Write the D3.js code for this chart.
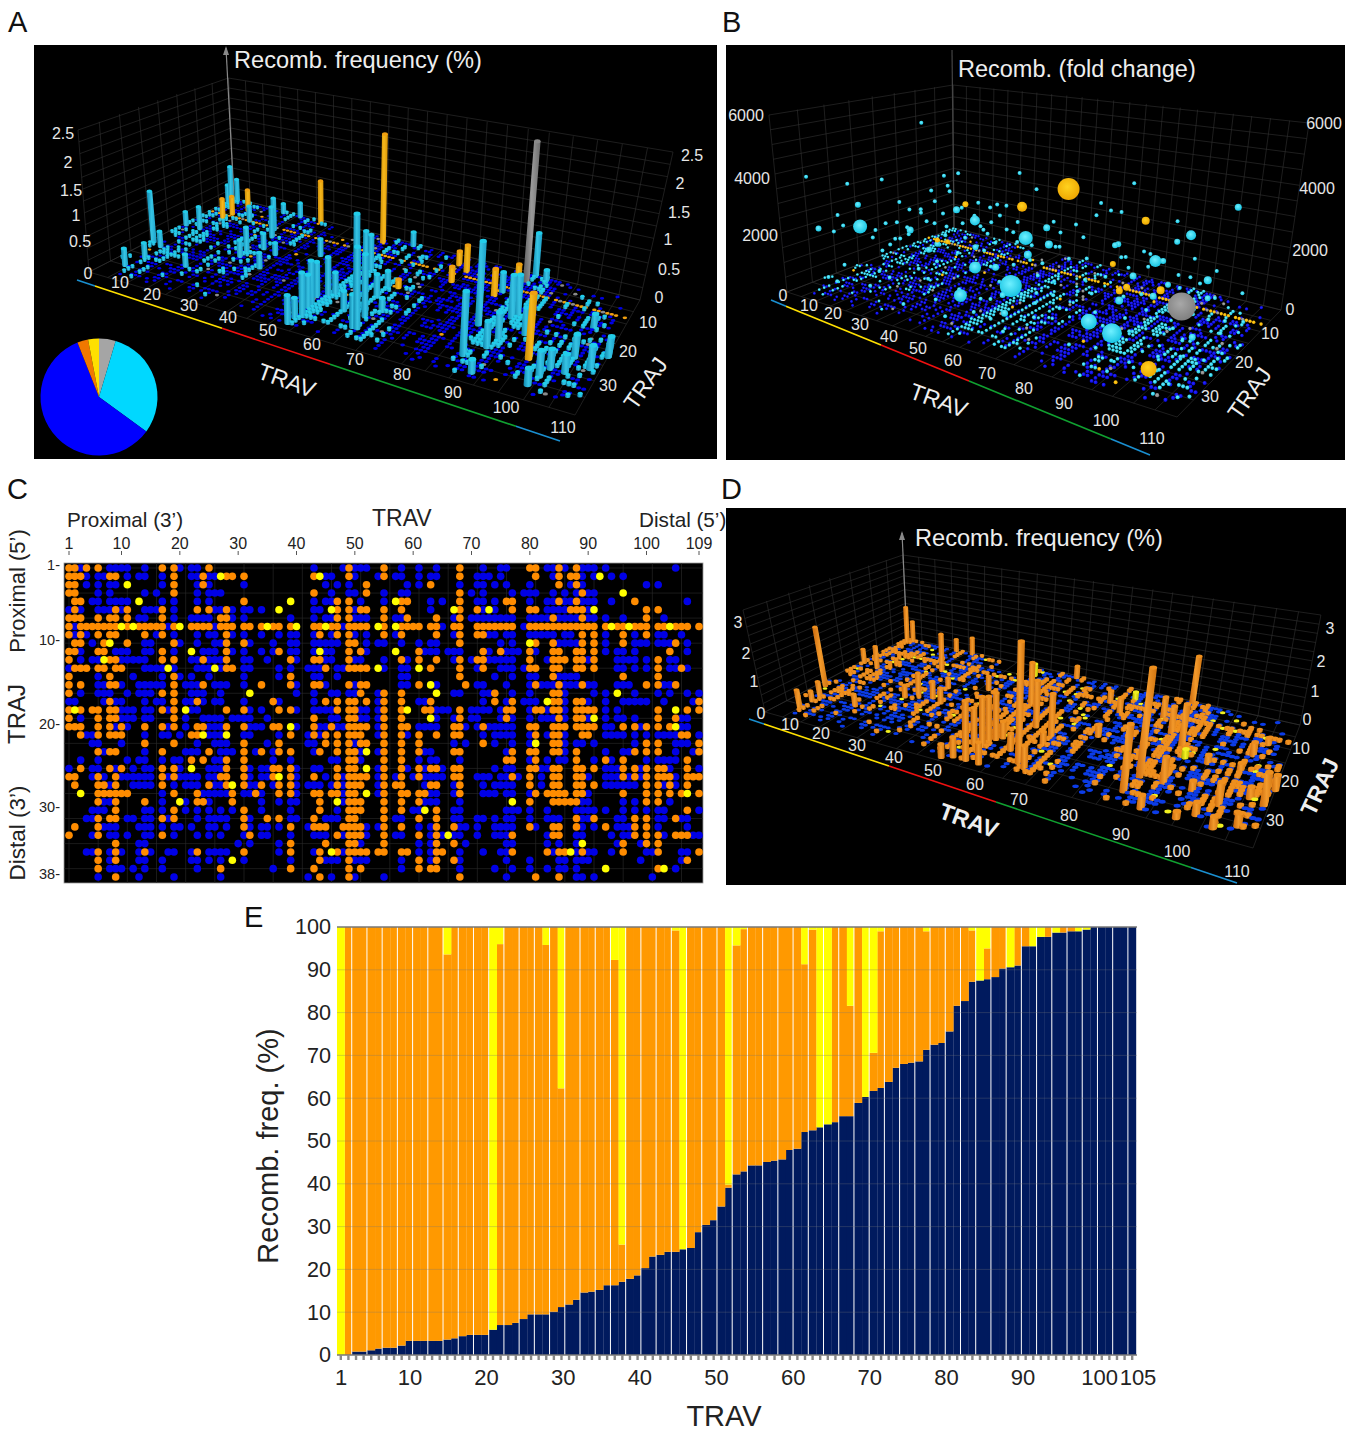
<!DOCTYPE html>
<html lang="en">
<head>
<meta charset="UTF-8">
<title>TRAV TRAJ recombination</title>
<script src="https://d3js.org/d3.v7.min.js"></script>
<style>
  html, body { margin: 0; background: #fff; }
  text { font-family: "Liberation Sans", Arial, sans-serif; }
</style>
</head>
<body>
<svg width="1355" height="1431"></svg>
<script>
// panel C: TRAV columns per TRAJ row (row 1 first)
const orangeByRow = [
[1,2,4,6,17,19,25,49,55,68,80,81,85,88],
[1,2,3,8,9,19,24,28,29,31,43,49,55,68,81,85,87,88],
[1,2,19,24,52,63,85,88],
[1,2,19,43,52,68,89],
[2,3,31,47,49,58,59,68,76,77,85,88,98],
[2,9,11,17,23,25,28,47,49,51,52,55,58,68,71,77,80,81,87,88,89,100,102],
[1,2,3,6,8,9,11,17,27,28,47,49,55,59,64,68,84,89,100],
[1,3,4,5,6,7,8,9,11,13,14,15,16,17,19,22,23,24,25,27,28,29,31,32,34,36,37,39,43,44,46,47,49,50,51,52,55,58,59,60,61,63,64,67,68,71,72,73,74,75,76,77,80,81,82,83,84,85,86,87,88,89,90,91,93,95,96,98,99,100,102,103,105,106,107,109],
[1,3,6,8,9,14,17,28,44,47,49,55,58,64,68,71,72,89,91,96,100],
[2,3,7,11,19,28,31,49,50,68,81,84,89,91,96,105],
[1,2,6,7,17,28,37,49,51,61,72,75,80,84,85,88,89,91,104],
[1,8,9,17,19,24,28,39,43,44,49,58,61,64,68,71,72,80,84,85,86,88,89,91,102],
[2,3,4,6,7,9,10,28,29,45,49,50,51,52,63,68,72,80,81,84,85,88,89,91,102,106],
[1,8,19,39,68,84,96,102],
[1,3,8,9,19,24,34,39,43,44,49,51,52,61,69,81,85,89,100,102,105],
[1,17,19,51,55,58,74,84,85],
[8,19,23,36,45,47,49,50,52,55,58,63,74,77,84,85,88,89,109],
[1,3,5,6,8,9,17,19,28,31,37,39,47,49,50,55,58,62,63,68,76,77,81,82,84,85,88,89,90,91,102,107,109],
[1,6,8,9,19,43,49,50,55,58,68,76,85,88,89,102,105],
[1,2,3,6,8,10,14,17,19,23,24,28,31,36,37,43,46,49,50,51,52,55,58,59,67,68,72,80,81,84,85,86,88,89,90,91,96,98,100,102,104],
[3,6,8,9,10,22,23,39,43,45,47,49,50,51,55,58,61,64,67,68,81,84,85,89,90,106,107],
[14,19,31,37,45,47,49,51,52,55,58,61,72,84,85,100,102,109],
[6,8,9,17,25,31,34,37,39,44,47,49,50,55,58,61,67,68,77,80,81,84,85,88,98,100,102,109],
[22,24,28,31,49,50,55,58,76,77,81,88,93,96,107],
[3,8,10,17,19,28,31,36,37,39,47,49,50,55,58,61,63,64,67,68,80,81,84,85,88,89,91,96,98,100,102,103,107],
[1,2,6,9,17,19,27,28,31,36,39,43,47,49,50,51,52,55,58,61,67,68,77,80,84,85,88,89,96,98,100,102,103,104,107,108,109],
[2,6,7,9,17,25,28,31,34,37,39,47,49,50,51,55,57,58,63,64,68,80,84,85,88,89,91,100,102,104,107],
[6,7,8,9,10,11,19,23,29,33,37,39,43,44,46,47,49,50,55,58,59,61,62,68,81,83,84,85,86,88,89,96,100,102,104,106,109],
[6,9,14,23,24,29,44,49,50,51,55,58,61,80,84,85,86,87,88,100,102],
[9,19,31,44,49,50,51,55,58,64,107],
[6,8,9,17,19,31,35,37,43,49,50,55,61,64,88,91,98,100,105],
[2,6,31,39,43,44,45,48,49,50,51,55,58,64,67,80,84,85,88,93,98,100],
[1,6,17,32,47,49,50,51,55,61,64,77,84,85,98,100,102,105,106,107],
[9,39,45,49,50,55,64,67,96,100,102],
[6,9,14,23,31,39,44,47,49,50,51,52,54,55,58,59,64,65,77,83,85,86,89,96,102,109],
[6,9,44,49,61,64,67,107],
[6,27,39,43,49,51,61,63,64,102],
[9,44,49,68,81,85]
];
const blueByRow = [
[3,8,9,10,11,14,20,22,23,43,48,50,51,52,58,61,64,72,75,76,83,84,86,89,90,91,93,105],
[4,6,7,11,13,14,17,22,23,25,26,45,46,50,54,57,58,61,63,64,71,72,73,75,84,89,91,94,96],
[4,6,8,9,17,23,25,31,45,47,49,59,61,68,71,72,74,76,80,87,89,100,102],
[6,8,14,16,23,25,26,27,46,49,50,55,58,59,70,72,77,79,80,81,84,86,88,90,91],
[5,6,8,9,10,11,17,19,23,25,43,45,46,51,55,63,65,71,72,74,80,83,84,86,87,89,90,91,94,107],
[1,3,6,7,8,10,14,15,16,19,26,27,29,31,32,34,43,44,50,63,72,74,83,84,85,86,90],
[13,14,19,22,23,24,25,29,31,39,43,45,46,50,51,52,57,58,67,70,71,72,73,74,75,76,77,80,81,82,83,85,86,87,88,90,91,93,96,103],
[2,18,26,48,65,79],
[2,4,16,19,23,25,26,29,31,34,37,39,40,43,46,50,52,57,67,73,74,76,77,80,81,82,83,84,86,87,93,98,102,103,106],
[5,14,15,20,23,26,27,32,36,39,40,43,44,45,46,47,52,54,55,58,61,63,64,75,77,85,86,87,88,93,98,99,100,102,103,104,107],
[3,9,10,11,14,15,19,24,25,26,29,31,34,36,39,40,43,45,46,52,62,63,64,66,67,68,73,76,77,78,81,93,95,96,98,107],
[3,5,6,10,11,12,13,14,22,23,25,26,27,31,32,35,40,45,46,50,51,55,59,67,70,73,74,75,76,77,83,90,95,96,97,98,100,104,105],
[1,14,15,16,17,19,23,24,25,27,31,32,37,39,42,43,44,47,48,55,58,59,71,75,76,77,79,95,96,98,100,104,105,107],
[6,12,17,20,22,25,31,37,43,44,47,58,59,74,77,80,81,85,86,87,88],
[6,7,10,13,14,15,16,17,21,22,23,26,27,28,31,40,45,50,58,59,64,71,72,76,80,82,83,84,86,87,88,90,91,95,96,97,103,104],
[3,6,7,8,11,13,14,15,22,23,24,27,40,43,46,47,49,50,54,67,68,72,73,77,80,86,91,93,98,102,104,107,109],
[1,2,7,9,10,14,16,17,21,22,24,26,27,31,37,43,54,61,62,72,76,79,80,81,86,90,93,96,97,98,99,100,103,108],
[10,11,12,14,15,18,22,23,32,34,40,43,44,45,46,51,52,54,64,65,66,70,71,72,73,75,80,83,86,93,95],
[3,10,11,12,14,15,21,24,25,26,27,29,30,31,32,35,46,47,51,52,54,64,67,70,71,75,77,80,82,83,84,86,90,93,95,96,98,106,107],
[9,11,18,21,25,26,27,32,33,34,40,44,45,47,48,54,61,62,63,64,69,71,73,74,75,76,77,93,94,99,106,107],
[4,5,14,17,18,20,25,26,27,31,32,37,42,44,54,59,72,74,75,76,77,80,83,86,93,94,95,96,98,100,102,103,104,105,109],
[5,6,10,23,26,27,28,35,42,43,50,67,69,74,77,80,86,88,89,91,98,105,106,107],
[7,14,21,22,23,27,28,29,33,36,43,51,54,62,63,76,86,93,96,97,105,108],
[3,6,11,13,14,17,19,20,26,27,36,39,46,47,51,61,63,64,68,80,83,85,86,91,94,100,102,103,104,105],
[1,5,6,9,12,14,15,20,25,26,27,32,34,35,40,43,44,54,59,62,65,74,76,77,82,83,93,94,95,99,104,109],
[5,7,10,11,12,13,14,15,18,20,21,22,23,25,26,32,34,35,40,45,48,54,57,60,62,63,64,65,71,72,73,75,76,78,82,90,93,94,95,97,99,105],
[8,12,13,14,15,19,21,22,23,26,27,32,33,36,40,42,43,44,46,48,54,62,67,72,74,75,76,77,82,93,94,95,96,97,98,103,105],
[17,24,25,26,27,28,31,32,34,40,48,54,63,64,67,72,73,74,76,77,80,90],
[7,8,17,21,25,34,37,39,40,48,62,63,64,68,89,90,96,98,104],
[5,6,7,14,15,17,21,23,25,27,29,34,39,47,60,61,67,68,76,77,78,80,83,88,89,90,91,93,96,98,100,102,103,109],
[4,5,11,12,14,15,18,23,25,26,27,28,32,39,40,45,46,47,57,58,67,68,71,72,74,76,77,80,83,84,85,89,90,95,96,102,103,106,107],
[7,8,9,13,14,15,17,19,20,22,25,26,28,32,34,35,37,42,52,54,61,63,68,69,71,74,75,76,77,81,89,91,95,96,97,102,107],
[5,8,9,11,14,15,19,23,25,27,31,34,35,39,43,44,45,48,52,57,58,63,65,67,68,71,74,75,76,83,88,89,94,96,97,103,108,109],
[13,14,30,32,37,51,61,63,69,76,77,83,85,88,95,99],
[4,5,8,10,13,15,18,19,22,25,26,27,28,37,43,48,61,63,68,72,75,76,84,88,90,91,94,100,101,106,107],
[8,13,14,17,22,23,25,27,31,39,45,46,47,50,51,52,58,63,68,76,80,85,86,88,89,90,99,106],
[8,9,10,12,14,17,23,36,58,68,74,77,80,83,85,86,88,105],
[6,13,19,27,42,46,50,55,76,88,89,91,101]
];
// [TRAV, TRAJ]
const yellowDots = [[27,2],[44,2],[92,2],[11,3],[96,4],[13,5],[39,5],[57,5],[37,6],[46,6],[67,6],[73,6],[91,6],[10,8],[12,8],[20,8],[35,8],[40,8],[45,8],[54,8],[57,8],[94,8],[97,8],[104,8],[8,10],[80,10],[22,11],[44,11],[57,11],[7,12],[18,13],[26,13],[54,13],[61,13],[63,15],[32,16],[64,16],[95,16],[83,17],[2,18],[21,18],[59,18],[105,18],[63,19],[91,19],[39,20],[105,20],[24,21],[28,21],[81,22],[52,23],[22,25],[52,25],[37,26],[29,27],[3,28],[52,28],[107,28],[20,29],[47,29],[77,29],[62,30],[66,33],[89,34],[46,35],[87,35],[29,36],[93,37],[103,37]];
// same cells shown amber instead of grey in A and B
const amberCells = ["27,2","13,5","37,6","57,8","80,10","18,13","32,16","59,18","24,21","52,25","3,28","77,29","87,35","93,37"];
// TRAV stretches where the orange cells of C stay dark blue in A and B
const blueStretches = [[31,47],[68,82]];

// panel A tall bars [TRAV, TRAJ, frequency %]
const barsCyanA = [[1,25,.94],[4,26,.28],[4,35,.3],[5,31,.27],[1,16,.26],[5,16,.42],[15,30,.21],[2,3,.77],[1,3,.38],[2,1,.45],[12,8,.29],[20,9,.61],[22,12,.57],[16,1,.18],[21,1,.28],[22,20,.46],[24,17,.28],[22,22,.3],[29,24,.27],[28,18,.21],[53,1,.25],[58,30,1.68],[49,14,.65],[61,34,1.34],[51,15,.65],[48,31,.75],[49,35,.73],[47,28,.59],[49,27,.67],[48,38,.46],[48,36,.33],[48,32,.55],[50,26,.39],[55,30,.33],[60,30,1.04],[58,23,.39],[58,19,.29],[60,34,.54],[62,27,.22],[37,14,.3],[84,33,1.02],[82,23,1.38],[88,26,.45],[87,29,.42],[88,37,.21],[87,18,.71],[88,17,.69],[85,1,.76],[81,10,.34],[92,22,.43],[88,2,.2],[104,14,.22],[104,25,.37],[108,27,.37],[110,22,.21],[100,33,.41],[99,36,.26],[104,30,.29],[101,30,.31],[110,22,.32]];
const barsAmberA = [[46,3,2.04],[27,1,.81],[6,10,.4],[6,7,.35],[8,4,.42],[67,4,.24],[70,6,.47],[69,11,.26],[80,12,.45],[82,4,.27],[96,29,1.05],[60,18,.14]];
const barsGreyA = [[84,4,2.45]];

// panel D bars
const barsOrangeD = [[2,27,2.01],[5,36,.58],[5,31,.5],[5,33,.33],[1,15,.49],[6,16,.78],[15,31,.38],[2,2,1.37],[3,1,.78],[21,11,1.3],[17,1,.44],[22,1,.62],[24,22,.72],[28,22,.55],[28,17,.34],[31,23,.49],[22,24,.39],[37,14,.45],[53,1,.4],[60,35,3.53],[50,16,1.37],[56,23,1.43],[61,25,1.3],[50,38,1.74],[50,33,1.48],[48,33,1.09],[51,30,1.4],[50,31,1.34],[47,38,.58],[45,39,.39],[53,38,.62],[61,28,.39],[62,36,.66],[52,29,.5],[56,32,.49],[83,35,1.86],[84,30,3.07],[80,9,.62],[84,1,1.5],[84,14,.8],[88,18,1.26],[89,30,.73],[88,38,.36],[66,8,.37],[70,11,.47],[70,21,.35],[95,30,.27],[95,38,.18],[102,38,.31],[95,21,.24],[102,21,.23],[101,32,.62],[109,29,.89],[106,28,.31],[110,24,.41],[106,36,.35],[98,36,.35],[103,15,.38],[105,10,.19]];
const barsYellowD = [[43,4,.4],[71,5,.27],[90,21,.24]];

// panel B spheres [TRAV, TRAJ, fold change]
const ballsAmber = [[51,9,3120],[44,16,2700],[78,13,2870],[28,18,2510],[99,35,500],[73,17,1560],[83,26,1610],[84,25,1680],[92,24,1750],[28,25,1640],[30,24,1570]];
const ballsAmberR = [11,5,4,3,8,3,3.5,3.5,4,2.5,2.5];
const ballsGrey = [[99,26,1620]];
const ballsGreyR = [14];
const ballsCyan = [[3,26,1520],[51,21,2080],[56,29,1150],[87,32,890],[80,31,930],[44,28,1340],[46,33,820],[87,20,2240],[90,12,2630],[35,21,2270],[54,18,2330],[58,21,2050],[54,23,1720],[25,18,2250],[83,22,1790],[84,27,1410],[97,14,1510],[95,1,3030],[49,27,1420],[19,25,1750],[1,25,2210],[2,34,1860],[91,25,1610],[89,20,2300],[59,33,660],[56,31,1000],[90,17,2740],[100,18,1310],[28,27,1420],[28,25,1510],[39,24,1630],[103,27,900],[75,19,2350],[75,18,2320],[93,23,1880]];
const ballsCyanR = [7,7,11,10,8,6,6.5,6,5,5,3.5,4,4,3.5,3.5,4,4,3.5,3.5,3.5,3,3,3.5,3,3.5,3,3,3,3,3,3,3.5,3,3,3];
const ballsSmall = [[2,10,4730],[1,35,3690],[1,27,3060],[2,20,2930],[19,13,3210],[14,13,3020],[35,9,3370],[18,15,2820],[20,16,2700],[15,17,2670],[19,19,2460],[8,20,2230],[2,30,2120],[2,29,1690],[2,31,1590],[9,27,1340],[9,24,1680],[13,24,1820],[13,21,2120],[17,21,2100],[31,17,2590],[39,16,2620],[36,16,2590],[44,12,3110],[69,7,3600],[64,12,3080],[91,39,5290],[71,13,2990],[61,10,2480],[86,12,2990],[55,17,2500],[45,18,2300],[39,20,2250],[39,22,2110],[31,21,2070],[27,22,1910],[23,22,1930],[46,20,2090],[65,18,2290],[83,19,2370],[79,20,2150],[93,14,2080],[103,8,860],[17,26,1460],[15,27,1250],[43,25,1690],[44,23,1850],[60,21,2030],[67,24,2020],[71,23,2070],[86,21,2100],[94,21,2070],[97,17,1610],[96,23,1870]];
const ballsLow = [[49,22,620],[49,26,880],[50,29,540],[51,24,760],[50,33,410],[55,21,930],[55,27,720],[55,33,350],[58,24,640],[58,28,880],[58,32,520],[61,22,980],[61,27,610],[61,35,300],[64,25,810],[64,30,470],[67,21,760],[67,26,560],[68,20,1100],[1,10,1300],[3,15,900],[2,22,1150],[6,12,1050],[8,9,1250],[6,20,820],[9,25,760],[8,18,930],[11,6,1400],[17,7,1280],[17,15,960],[19,4,1500],[19,18,840],[23,10,1180],[25,6,1420],[24,15,1050],[28,12,1130],[28,20,900],[31,9,1200],[37,11,1000],[39,20,720],[43,12,1100],[44,18,800],[47,7,1380],[47,16,920],[49,4,1550],[52,12,1280],[52,17,1010],[84,20,1100],[85,26,820],[85,31,560],[88,18,1180],[88,23,940],[88,28,660],[84,33,420],[80,21,980],[81,28,600],[89,34,300],[96,24,700],[98,31,480],[100,26,620],[102,20,860],[102,29,450],[100,33,330],[105,18,760],[107,28,430],[109,26,380],[104,35,240],[98,20,900],[91,12,1300],[96,9,1450],[100,15,1100],[106,21,640],[109,17,780],[71,12,1420],[72,18,1180],[77,9,1500],[75,14,1300],[76,25,640],[77,33,280],[72,22,900],[5,31,500],[6,35,360],[9,35,300],[14,29,420],[17,33,260],[19,30,400],[23,26,560],[25,23,700],[29,28,520],[31,35,210],[37,32,340],[39,28,460],[44,35,230],[47,29,460]];

// panel E, one value per ranked TRAV
const navyVals = [0,0,.8,.8,1.1,1.5,1.7,1.7,2.2,3.3,3.3,3.3,3.3,3.3,3.6,3.9,4.4,4.7,4.7,4.7,5.9,7,7,7.5,8.4,9.5,9.5,9.5,10.1,11.2,11.8,12.9,14.6,14.8,15.2,16.3,16.3,17.1,17.8,18.6,20.3,23,23.4,24.1,24.1,24.7,25,28.7,30.4,31.5,34.7,39.1,42.2,42.9,44.3,44.3,45.1,45.4,45.7,47.9,48.2,52.1,52.5,53.2,53.9,54.4,55.8,55.8,58.9,60.3,61.7,62.4,63.8,67.1,68,68.3,68.6,71.3,72.5,72.9,75.6,81.6,82.7,87.2,87.5,87.8,88.3,90.3,90.6,91,95.5,95.5,97.7,97.7,98.7,98.7,99,99,99.4,100,100,100,100,100,100];
const yellowVals = [100,0,0,0,0,0,0,0,0,0,0,0,0,0,6.4,0,0,0,0,0,94.1,4,0,0,0,0,0,4.2,0,37.7,0,0,0,0,0,0,7.7,74.2,0,0,0,0,0,0,.8,75.3,0,0,0,0,0,60.2,4.3,.5,0,0,0,0,0,0,0,8.7,.6,46.8,46.1,0,0,18.4,0,39.7,29.4,1,0,0,0,0,0,1,0,0,0,0,0,.8,12.5,5,0,0,9.4,0,0,4.5,2.3,0,1.3,0,0,1,.6,0,0,0,0,0,0];
const orangeVals = navyVals.map((n, i) => 100 - n - yellowVals[i]);
const barTicks = [1,10,20,30,40,50,60,70,80,90,100,105];

// pie in panel A
const pieVals = [4.6, 30.4, 59, 3, 3];
const pieCols = ["#a5a5a5", "#00d8ff", "#0000ff", "#f07800", "#ffe000"];

const travTicks = [10,20,30,40,50,60,70,80,90,100,110];
const trajTicks = [10,20,30];
const heatTicks = [1,10,20,30,40,50,60,70,80,90,100,109];
const heatRowTicks = [1,10,20,30,38];

const svg = d3.select("svg");
const defs = svg.append("defs");

// ---- panel letters
[["A",8,32],["B",722,32],["C",7,499],["D",721,499],["E",244,927]].forEach(d => {
  svg.append("text").attr("x", d[1]).attr("y", d[2]).attr("font-size", 29).attr("fill", "#111").text(d[0]);
});

// ---- homography from the unit square
function quadMap(q) {
  const [b, r, f, l] = q;
  const dx1 = r[0]-f[0], dy1 = r[1]-f[1], dx2 = l[0]-f[0], dy2 = l[1]-f[1];
  const sx = b[0]-r[0]+f[0]-l[0], sy = b[1]-r[1]+f[1]-l[1];
  const den = dx1*dy2 - dx2*dy1;
  const g = (sx*dy2 - dx2*sy)/den, h = (dx1*sy - sx*dy1)/den;
  const a = r[0]*(1+g)-b[0], bb = l[0]*(1+h)-b[0], d = r[1]*(1+g)-b[1], e = l[1]*(1+h)-b[1];
  return (u, v) => {
    const w = g*u + h*v + 1;
    return [(a*u + bb*v + b[0])/w, (d*u + e*v + b[1])/w];
  };
}

// floor homography + height in pixels (bilinear from the corners) + lean of the verticals
function makeScene(cfg) {
  const u = d3.scaleLinear().domain([0, 110]).range([0, 1]);
  const v = d3.scaleLinear().domain([0, 40]).range([0, 1]);
  const z = d3.scaleLinear().domain([0, cfg.zMax]).range([0, 1]);
  const low = quadMap(cfg.floor);
  const lean = d3.scaleLinear().domain(cfg.leanAt).range(cfg.lean).clamp(true);
  const [hb, hr, hf, hl] = cfg.heights;
  return (t, j, h) => {
    const a = u(t), b = v(j), p = low(a, b);
    const px = ((hb*(1-a) + hr*a)*(1-b) + (hl*(1-a) + hf*a)*b) * z(h || 0);
    return [p[0] - lean(p[0])*px, p[1] - px];
  };
}

function draw3d(cfg) {
  const g = svg.append("g");
  const clipId = "clip" + cfg.box[0] + cfg.box[1];
  defs.append("clipPath").attr("id", clipId).append("rect").attr("x", cfg.box[0]).attr("y", cfg.box[1]).attr("width", cfg.box[2]).attr("height", cfg.box[3]);
  g.attr("clip-path", `url(#${clipId})`);
  g.append("rect").attr("x", cfg.box[0]).attr("y", cfg.box[1]).attr("width", cfg.box[2]).attr("height", cfg.box[3]).attr("fill", "#000");
  const p = makeScene(cfg);
  const line = d3.line();
  const grid = g.append("g").attr("fill", "none").attr("stroke", "#333").attr("stroke-width", 0.6);
  const zStep = cfg.zMax / 12;
  d3.range(0, 111, 5).forEach(t => grid.append("path").attr("d", line([p(t,0), p(t,40)])));
  d3.range(0, 41, 5).forEach(j => grid.append("path").attr("d", line([p(0,j), p(110,j)])));
  d3.range(0, 111, 5).forEach(t => grid.append("path").attr("d", line([p(t,0), p(t,0,cfg.zMax)])));
  d3.range(0, 41, 5).forEach(j => grid.append("path").attr("d", line([p(0,j), p(0,j,cfg.zMax)])));
  d3.range(0, 13).forEach(i => {
    grid.append("path").attr("d", line([p(0,40,i*zStep), p(0,0,i*zStep), p(110,0,i*zStep)]));
  });
  if (cfg.arrow) {
    const s = p(0, 0), e = cfg.arrow;
    g.append("path").attr("d", line([s, e])).attr("stroke", cfg.arrowCol).attr("stroke-width", 1.2).attr("fill", "none");
    if (cfg.arrowHead) g.append("path").attr("d", `M${e[0]-3},${e[1]+7}L${e[0]},${e[1]-2}L${e[0]+3},${e[1]+7}Z`).attr("fill", cfg.arrowCol);
  }

  // marks sorted from the back
  const marks = cfg.marks.map(m => Object.assign({}, m, { depth: p(m.t, m.j)[1] + (m.tall ? .01 : 0) })).sort((a, b) => a.depth - b.depth);
  const mg = g.append("g");
  marks.forEach(m => {
    const a = p(m.t - .5, m.j), b = p(m.t + .5, m.j), d = Math.hypot(a[0]-b[0], a[1]-b[1]);
    const base = p(m.t, m.j);
    if (m.ball) {
      const c = p(m.t, m.j, m.h);
      mg.append("circle").attr("cx", c[0]).attr("cy", c[1]).attr("r", m.ball < 0 ? -m.ball*d : m.ball).attr("fill", "url(#ball" + m.col + ")");
      return;
    }
    const rx = (m.tall ? cfg.barR : cfg.dot) * d, ry = rx * cfg.flat;
    if (m.h) {
      const top = p(m.t, m.j, m.h);
      mg.append("path")
        .attr("d", `M${base[0]-rx},${base[1]}L${top[0]-rx},${top[1]}L${top[0]+rx},${top[1]}L${base[0]+rx},${base[1]}A${rx},${ry} 0 0 1 ${base[0]-rx},${base[1]}Z`)
        .attr("fill", "url(#bar" + m.col + ")");
      mg.append("ellipse").attr("cx", top[0]).attr("cy", top[1]).attr("rx", rx).attr("ry", ry).attr("fill", cfg.cap[m.col]);
    } else {
      mg.append("ellipse").attr("cx", base[0]).attr("cy", base[1]).attr("rx", rx).attr("ry", ry).attr("fill", cfg.cap[m.col]);
    }
  });

  // TRAV segment line
  const segX = d3.scaleLinear().domain([cfg.axis[0][0], cfg.axis[1][0]]).range([cfg.axis[0][1], cfg.axis[1][1]]);
  const cols = ["#1a8fd0","#ffe000","#f01010","#10a030","#1a8fd0"];
  cfg.axisStops.slice(1).forEach((x, i) => {
    const x0 = cfg.axisStops[i];
    g.append("path").attr("d", line([[x0, segX(x0)], [x, segX(x)]])).attr("stroke", cols[i]).attr("stroke-width", 1.6);
  });

  const lab = g.append("g").attr("fill", "#e6e6e6").attr("font-size", 16).attr("text-anchor", "middle");
  const put = (c, s) => lab.append("text").attr("x", c[0]).attr("y", c[1]).attr("dy", ".35em").text(s);
  travTicks.forEach((t, i) => put(cfg.travPos[i], t));
  trajTicks.forEach((t, i) => put(cfg.trajPos[i], t));
  cfg.zTicks.forEach((t, i) => { put(cfg.zLeft[i], t); put(cfg.zRight[i], t); });
  cfg.titles.forEach(d => {
    g.append("text").attr("transform", `translate(${d[1]},${d[2]}) rotate(${d[3]})`).attr("fill", "#eee")
      .attr("font-size", d[4]).attr("font-weight", d[5] || "normal").attr("text-anchor", d[6] || "middle").text(d[0]);
  });
}

function gradient(id, stops) {
  const gr = defs.append("linearGradient").attr("id", id);
  stops.forEach((c, i) => gr.append("stop").attr("offset", i / (stops.length - 1)).attr("stop-color", c));
}
gradient("barC", ["#0f86ad", "#36c4e4", "#1b9fc8"]);
gradient("barO", ["#c98a06", "#f6b81c", "#d89406"]);
gradient("barG", ["#5c5c5c", "#9a9a9a", "#6c6c6c"]);
gradient("barD", ["#c9680c", "#f39a2c", "#d07410"]);
gradient("barY", ["#a8a800", "#f2f222", "#b8b800"]);
function ball(id, c0, c1) {
  const gr = defs.append("radialGradient").attr("id", id).attr("cx", .45).attr("cy", .4).attr("r", .65);
  gr.append("stop").attr("offset", 0).attr("stop-color", c0);
  gr.append("stop").attr("offset", 1).attr("stop-color", c1);
}
ball("ballC", "#6ff0ff", "#10c0e0");
ball("ballO", "#ffd21e", "#eda400");
ball("ballG", "#a8a8a8", "#7c7c7c");
ball("ballb", "#2a2aff", "#0000d8");

// ---- floor dots shared by A, B and D
const dotList = [];
orangeByRow.forEach((cols, i) => cols.forEach(c => dotList.push({ t: c, j: i + 1, kind: "o" })));
blueByRow.forEach((cols, i) => cols.forEach(c => dotList.push({ t: c, j: i + 1, kind: "b" })));
yellowDots.forEach(d => dotList.push({ t: d[0], j: d[1], kind: "y" }));

// colour class used in A and B
function classAB(d) {
  if (d.kind === "b") return "b";
  if (d.kind === "y") return amberCells.includes(d.t + "," + d.j) ? "O" : "G";
  if (d.j === 8) return "O";
  return blueStretches.some(s => d.t >= s[0] && d.t <= s[1]) ? "b" : "C";
}
const toBars = (list, col) => list.map(b => ({ t: b[0], j: b[1], h: b[2], col, tall: true }));
const toBalls = (list, rs, col) => list.map((b, i) => ({ t: b[0], j: b[1], h: b[2], col, ball: rs[i] }));

// panel A
draw3d({
  box: [34,45,683,414], floor: [[234,198],[640,300],[575,415],[89,272]], heights: [120,148,165,142],
  leanAt: [89,160,234,382,537,640], lean: [.0775,.09,.046,-.018,-.084,-.223],
  zMax: 2.5, dot: .5, barR: .78, flat: .62,
  cap: { b:"#0000e6", C:"#22cdea", O:"#f0a010", G:"#8a8a8a" },
  axis: [[77,280],[560,441]], axisStops: [77,95,222,330,516,560], arrow: [226,48], arrowCol: "#888", arrowHead: true,
  travPos: [[120,282],[152,294],[189,305],[228,317],[268,330],[312,344],[355,359],[402,374],[453,392],[506,407],[563,427]],
  trajPos: [[648,322],[628,351],[608,385]],
  zTicks: [0,.5,1,1.5,2,2.5], zLeft: [[88,273],[80,241],[76,215],[71,190],[68,162],[63,133]], zRight: [[659,297],[669,269],[668,239],[679,212],[680,183],[692,155]],
  titles: [["Recomb. frequency (%)",234,68,0,23.6,"normal","start"],["TRAV",284,388,20,23],["TRAJ",652,388,-55,23]],
  marks: dotList.map(d => { const c = classAB(d); return { t:d.t, j:d.j, col:c, h: c === "C" ? .04 : 0 }; })
    .concat(toBars(barsCyanA,"C"), toBars(barsAmberA,"O"), toBars(barsGreyA,"G"))
});
const pieG = svg.append("g").attr("transform", "translate(99,397)");
pieG.selectAll("path").data(d3.pie().sort(null)(pieVals)).join("path")
  .attr("d", d3.arc().innerRadius(0).outerRadius(58.5)).attr("fill", (d, i) => pieCols[i]);

// panel B
draw3d({
  box: [726,45,619,415], floor: [[954,228],[1281,310],[1177,417],[787,292]], heights: [143,187,207,177],
  leanAt: [787,954,1281], lean: [.102,.007,-.15],
  zMax: 6000, dot: .42, barR: .5, flat: .62,
  cap: {},
  axis: [[771,300],[1150,455]], axisStops: [771,786,881,969,1111,1150], arrow: [952,50], arrowCol: "#444", arrowHead: false,
  travPos: [[809,305],[833,313],[860,324],[889,336],[918,348],[953,360],[987,373],[1024,388],[1064,403],[1106,420],[1152,438]],
  trajPos: [[1270,333],[1244,362],[1210,396]],
  zTicks: [0,2000,4000,6000], zLeft: [[783,295],[760,235],[752,178],[746,115]], zRight: [[1290,309],[1310,250],[1317,188],[1324,123]],
  titles: [["Recomb. (fold change)",958,77,0,23.5,"normal","start"],["TRAV",936,408,20,23],["TRAJ",1256,398,-55,23]],
  marks: dotList.map(d => { const c = classAB(d); return { t:d.t, j:d.j, col:c, h: c === "b" ? 0 : 60, ball: -.46 }; })
    .concat(toBalls(ballsCyan,ballsCyanR,"C"), toBalls(ballsSmall,ballsSmall.map(() => 2),"C"), toBalls(ballsLow,ballsLow.map(() => 2),"C"), toBalls(ballsAmber,ballsAmberR,"O"), toBalls(ballsGrey,ballsGreyR,"G"))
});

// panel D
draw3d({
  box: [726,508,620,377], floor: [[907,638],[1300,725],[1253,848],[765,712]], heights: [83,110,128,102],
  leanAt: [765,835,907,1018,1139,1189,1300], lean: [.216,.175,.05,-.024,-.126,-.149,-.19],
  zMax: 3.3, dot: .68, barR: .8, flat: .55,
  cap: { b:"#0c3ce6", D:"#ee8f1e", Y:"#f0f020" },
  axis: [[749,719],[1237,883]], axisStops: [749,764,889,996,1191,1237], arrow: [902,533], arrowCol: "#888", arrowHead: true,
  travPos: [[790,724],[821,733],[857,745],[894,757],[933,770],[975,784],[1019,799],[1069,815],[1121,834],[1177,851],[1237,871]],
  trajPos: [[1301,748],[1290,781],[1275,820]],
  zTicks: [0,1,2,3], zLeft: [[761,713],[754,681],[746,653],[738,622]], zRight: [[1307,719],[1315,691],[1321,661],[1330,628]],
  titles: [["Recomb. frequency (%)",915,546,0,23.6,"normal","start"],["TRAV",966,828,20,23,"bold"],["TRAJ",1327,790,-65,23,"bold"]],
  marks: dotList.map(d => { const c = d.kind === "b" ? "b" : d.kind === "y" ? "Y" : "D"; return { t:d.t, j:d.j, col:c, h: c === "D" ? .06 : 0 }; })
    .concat(toBars(barsOrangeD,"D"), toBars(barsYellowD,"Y"))
});

// ---- panel C
const xC = d3.scaleLinear().domain([1,109]).range([69,699]);
const yC = d3.scaleLinear().domain([1,38]).range([568,877]);
const cG = svg.append("g");
cG.append("rect").attr("x",64).attr("y",563).attr("width",639).attr("height",320).attr("fill","#000").attr("stroke","#999").attr("stroke-width",.8);
const cGrid = cG.append("g").attr("stroke","#2c2c2c").attr("stroke-width",.6);
d3.range(1,110,5).forEach(c => cGrid.append("line").attr("x1",xC(c)).attr("x2",xC(c)).attr("y1",563).attr("y2",883));
d3.range(1,39,3).forEach(r => cGrid.append("line").attr("y1",yC(r)).attr("y2",yC(r)).attr("x1",64).attr("x2",703));
const cDots = [];
blueByRow.forEach((cols,i) => cols.forEach(c => cDots.push([c,i+1,"#0000e6"])));
orangeByRow.forEach((cols,i) => cols.forEach(c => cDots.push([c,i+1,"#ff8c00"])));
yellowDots.forEach(d => cDots.push([d[0],d[1],"#ffff00"]));
cG.selectAll("circle").data(cDots).join("circle")
  .attr("cx", d => xC(d[0])).attr("cy", d => yC(d[1])).attr("r", 3.8).attr("fill", d => d[2]);
cG.selectAll(".tx").data(heatTicks).join("text").attr("class","tx")
  .attr("x", d => xC(d)).attr("y", 549).attr("text-anchor","middle").attr("font-size",16).attr("fill","#222").text(d => d);
cG.selectAll(".tk").data(heatTicks).join("line").attr("class","tk")
  .attr("x1", d => xC(d)).attr("x2", d => xC(d)).attr("y1",551).attr("y2",555).attr("stroke","#555");
cG.selectAll(".ty").data(heatRowTicks).join("text").attr("class","ty")
  .attr("x", 60).attr("y", d => yC(d)+2).attr("text-anchor","end").attr("font-size",14.5).attr("fill","#222").text(d => d + "-");
[["Proximal (3’)",67,527,0,20.7,"start"],["TRAV",372,526,0,23,"start"],["Distal (5’)",639,527,0,20.7,"start"],
 ["Proximal (5’)",25,591,-90,22,"middle"],["TRAJ",25,714,-90,24,"middle"],["Distal (3’)",25,833,-90,22.5,"middle"]].forEach(d => {
  cG.append("text").attr("transform",`translate(${d[1]},${d[2]}) rotate(${d[3]})`).attr("font-size",d[4]).attr("text-anchor",d[5]).attr("fill","#222").text(d[0]);
});

// ---- panel E
const xE = d3.scaleBand().domain(d3.range(1,106)).range([337,1136]);
const yE = d3.scaleLinear().domain([0,100]).range([1355,927]);
const xLab = d3.scaleLinear().domain([1,105]).range([341,1138]);
const rowsE = navyVals.map((n,i) => ({ rank:i+1, navy:n, orange:orangeVals[i], yellow:yellowVals[i] }));
const layers = d3.stack().keys(["navy","orange","yellow"])(rowsE);
const colE = { navy:"#001a5e", orange:"#ff9900", yellow:"#ffff00" };
const eG = svg.append("g");
layers.forEach(l => {
  eG.append("g").attr("fill", colE[l.key]).selectAll("rect").data(l).join("rect")
    .attr("x", d => xE(d.data.rank)).attr("width", d => d.data.rank % 2 ? xE.bandwidth() + .2 : xE.bandwidth() - 1)
    .attr("y", d => yE(d[1])).attr("height", d => Math.max(0, yE(d[0]) - yE(d[1])));
});
const yAxis = d3.axisLeft(yE).tickValues(d3.range(0,101,10)).tickSize(0).tickPadding(6);
const axY = eG.append("g").attr("transform","translate(337,0)").call(yAxis);
axY.select(".domain").remove();
axY.selectAll("text").attr("font-size",21.6).attr("fill","#222").style("font-family",'"Liberation Sans"');
d3.range(0,101,10).forEach(v => {
  eG.append("line").attr("x1",337).attr("x2",1137).attr("y1",yE(v)).attr("y2",yE(v)).attr("stroke","#777").attr("stroke-width",v===0||v===100 ? 1.5 : 1).attr("opacity",v===0||v===100 ? 1 : .3);
});
eG.selectAll(".t").data(d3.range(1,106)).join("line").attr("class","t")
  .attr("x1", d => xE(d)+xE.bandwidth()/2).attr("x2", d => xE(d)+xE.bandwidth()/2).attr("y1",1355).attr("y2",1360).attr("stroke","#888").attr("stroke-width",2.4);
eG.selectAll(".xl").data(barTicks).join("text").attr("class","xl")
  .attr("x", d => xLab(d)).attr("y",1385).attr("text-anchor","middle").attr("font-size",22).attr("fill","#222").text(d => d);
eG.append("text").attr("x",724).attr("y",1426).attr("text-anchor","middle").attr("font-size",29).attr("fill","#222").text("TRAV");
eG.append("text").attr("transform","translate(278,1146) rotate(-90)").attr("text-anchor","middle").attr("font-size",29).attr("fill","#222").text("Recomb. freq. (%)");
</script>
</body>
</html>
